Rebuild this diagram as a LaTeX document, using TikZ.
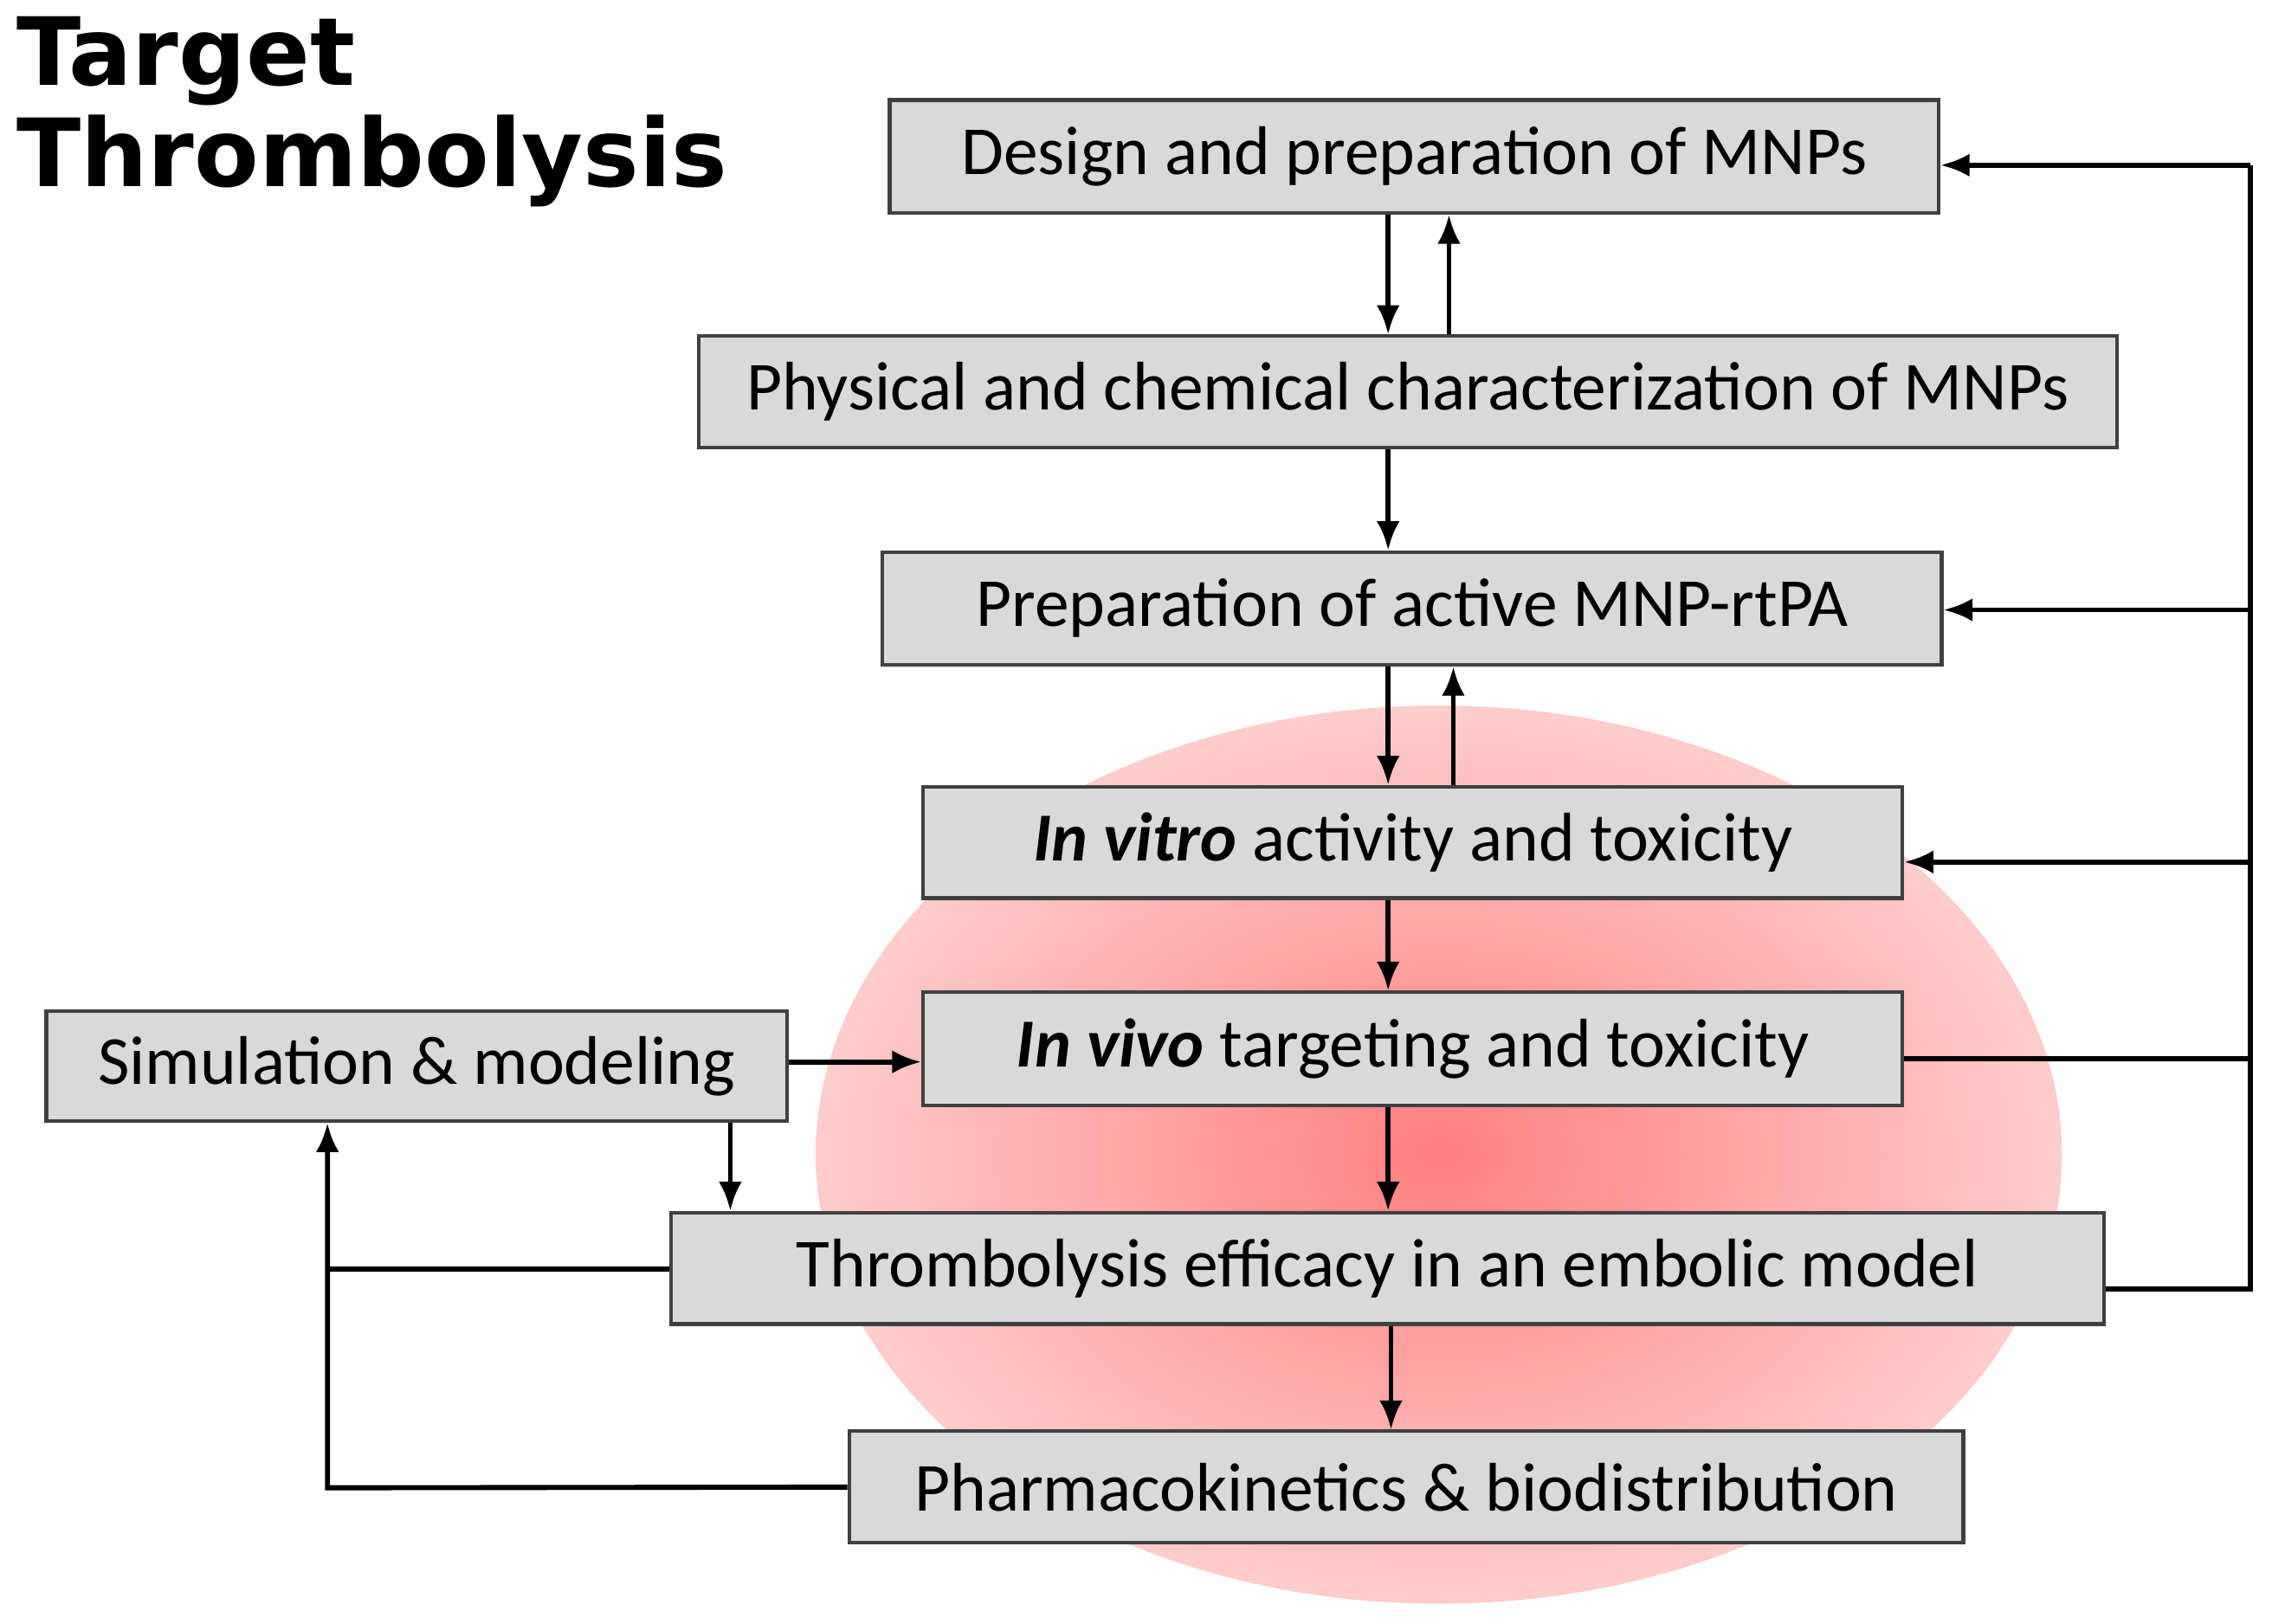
\documentclass[tikz,border=0pt]{standalone}
\usepackage{fontspec}
\usetikzlibrary{arrows.meta}
\setmainfont{Carlito}
\newfontfamily\titlefont{DejaVu Sans}
\begin{document}
\begin{tikzpicture}[x=1pt,y=-1pt,
 box/.style={draw=black!75,line width=2.5pt,fill=black!15,inner sep=0pt},
 ar/.style={line width=3.5pt,-{Latex[length=20pt,width=16pt]}},
 ln/.style={line width=3.5pt}]
\useasboundingbox (0,0) rectangle (1568,1121);
\shade[inner color=red!50,outer color=red!20] (993,797) ellipse [x radius=430,y radius=310];
\node[anchor=north west,align=left,font=\titlefont\bfseries\fontsize{65}{70}\selectfont] (title) at (8,8) {Target\\Thrombolysis};
\tikzset{bx/.style={box,font=\fontsize{47.5}{56}\selectfont}}
\node[bx,minimum width=724,minimum height=78] (d) at (976,108) {Design and preparation of MNPs};
\node[bx,minimum width=979,minimum height=77] (p) at (971.5,270.5) {Physical and chemical characterization of MNPs};
\node[bx,minimum width=731,minimum height=78] (a) at (974.5,420) {Preparation of active MNP-rtPA};
\node[bx,minimum width=676,minimum height=77] (v) at (975,581.5) {\textbf{\textit{In vitro}} activity and toxicity};
\node[bx,minimum width=676,minimum height=78] (w) at (975,724) {\textbf{\textit{In vivo}} targeting and toxicity};
\node[bx,minimum width=989,minimum height=77] (t) at (957.5,875.5) {Thrombolysis efficacy in an embolic model};
\node[bx,minimum width=769,minimum height=77] (k) at (970.5,1026.5) {Pharmacokinetics \& biodistribution};
\node[bx,minimum width=511,minimum height=76] (s) at (287.5,736) {Simulation \& modeling};
\draw[ar] (d.south -| 958,0) -- (p.north -| 958,0);
\draw[ar] (p.north -| 1000,0) -- (d.south -| 1000,0);
\draw[ar] (p.south -| 958,0) -- (a.north -| 958,0);
\draw[ar] (a.south -| 958,0) -- (v.north -| 958,0);
\draw[ar] (v.north -| 1003,0) -- (a.south -| 1003,0);
\draw[ar] (v.south -| 958,0) -- (w.north -| 958,0);
\draw[ar] (w.south -| 958,0) -- (t.north -| 958,0);
\draw[ar] (t.south -| 960,0) -- (k.north -| 960,0);
\draw[ln] (t.east |- 0,890) -- (1553,890) -- (1553,114);
\draw[ar] (1553,114) -- (d.east |- 0,114);
\draw[ar] (1553,421) -- (a.east |- 0,421);
\draw[ar] (1553,595) -- (v.east |- 0,595);
\draw[ln] (w.east |- 0,731) -- (1553,731);
\draw[ar] (s.east |- 0,733) -- (w.west |- 0,733);
\draw[ar] (s.south -| 504,0) -- (t.north -| 504,0);
\draw[ln] (t.west |- 0,876) -- (226,876);
\draw[ar] (k.west) -- (226,1027) -- (s.south -| 226,0);
\end{tikzpicture}
\end{document}
